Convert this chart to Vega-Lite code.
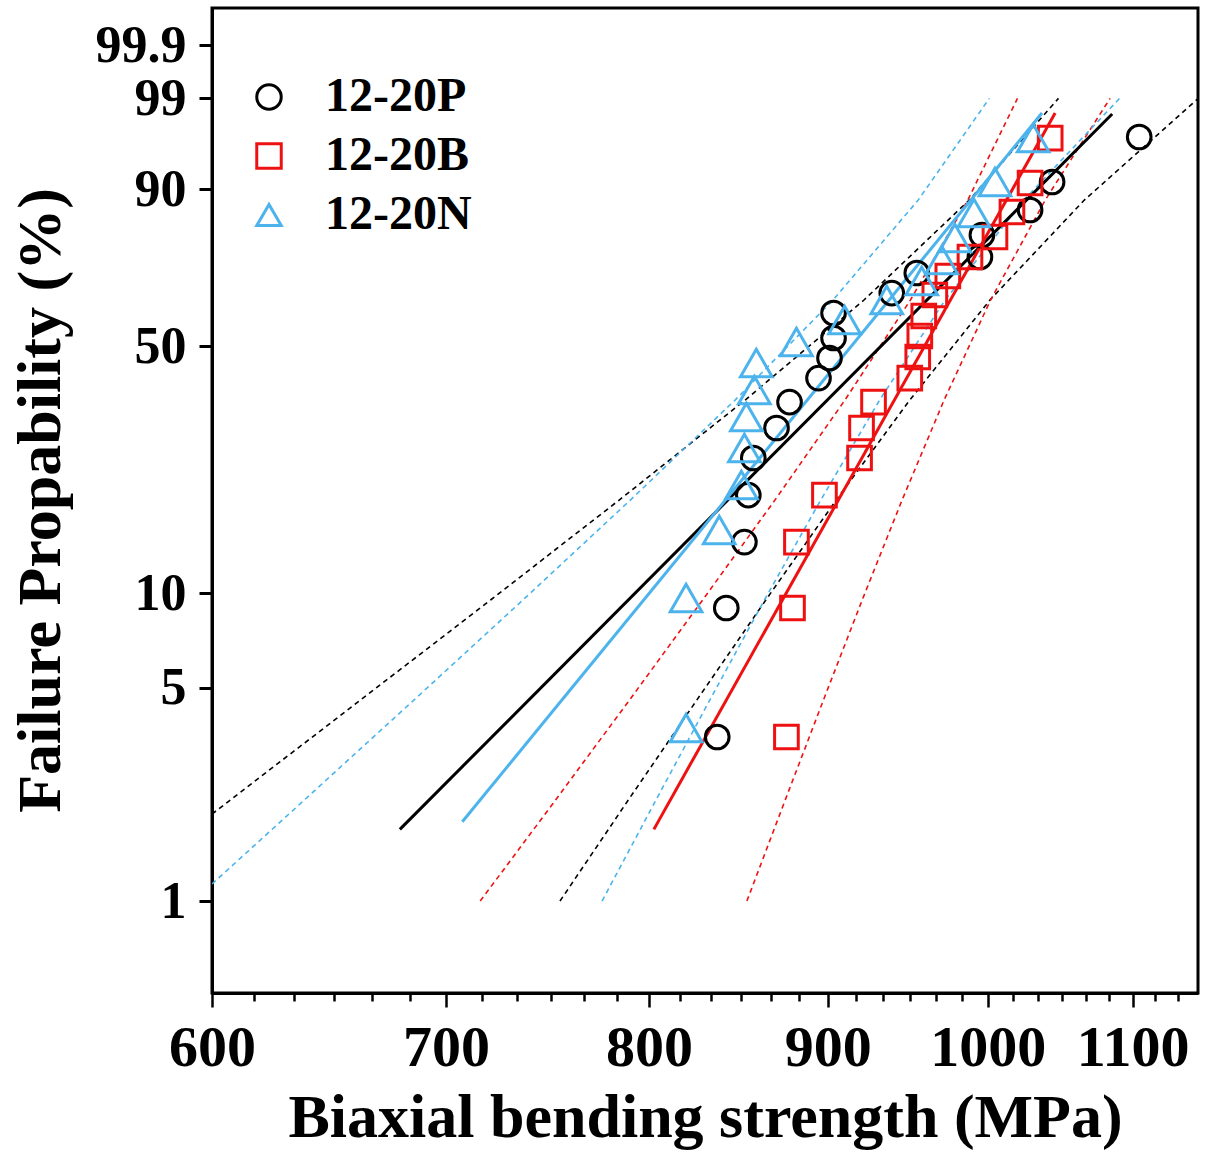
{
  "$schema": "https://vega.github.io/schema/vega-lite/v6.json",
  "width": 986,
  "height": 985,
  "autosize": {"type": "none"},
  "padding": {"left": 212, "top": 8, "right": 7, "bottom": 160},
  "background": "white",
  "config": {
    "view": {"stroke": "#000000", "strokeWidth": 3},
    "font": "Liberation Serif"
  },
  "datasets": {
    "points": [
      {"series": "12-20P", "strength": 836.8, "weibull": -3.348},
      {"series": "12-20P", "strength": 841.8, "weibull": -2.363},
      {"series": "12-20P", "strength": 851.9, "weibull": -1.860},
      {"series": "12-20P", "strength": 854.1, "weibull": -1.501},
      {"series": "12-20P", "strength": 856.9, "weibull": -1.218},
      {"series": "12-20P", "strength": 870.1, "weibull": -0.989},
      {"series": "12-20P", "strength": 877.6, "weibull": -0.791},
      {"series": "12-20P", "strength": 894.5, "weibull": -0.608},
      {"series": "12-20P", "strength": 901.0, "weibull": -0.455},
      {"series": "12-20P", "strength": 903.4, "weibull": -0.302},
      {"series": "12-20P", "strength": 903.4, "weibull": -0.111},
      {"series": "12-20P", "strength": 938.7, "weibull": 0.041},
      {"series": "12-20P", "strength": 954.3, "weibull": 0.194},
      {"series": "12-20P", "strength": 994.8, "weibull": 0.316},
      {"series": "12-20P", "strength": 996.1, "weibull": 0.484},
      {"series": "12-20P", "strength": 1028.2, "weibull": 0.675},
      {"series": "12-20P", "strength": 1043.2, "weibull": 0.889},
      {"series": "12-20P", "strength": 1104.8, "weibull": 1.232},
      {"series": "12-20B", "strength": 875.8, "weibull": -3.348},
      {"series": "12-20B", "strength": 879.3, "weibull": -2.363},
      {"series": "12-20B", "strength": 881.6, "weibull": -1.860},
      {"series": "12-20B", "strength": 898.0, "weibull": -1.501},
      {"series": "12-20B", "strength": 919.0, "weibull": -1.218},
      {"series": "12-20B", "strength": 920.2, "weibull": -0.989},
      {"series": "12-20B", "strength": 927.5, "weibull": -0.791},
      {"series": "12-20B", "strength": 949.9, "weibull": -0.608},
      {"series": "12-20B", "strength": 954.9, "weibull": -0.447},
      {"series": "12-20B", "strength": 956.2, "weibull": -0.287},
      {"series": "12-20B", "strength": 958.7, "weibull": -0.134},
      {"series": "12-20B", "strength": 965.7, "weibull": 0.026},
      {"series": "12-20B", "strength": 974.0, "weibull": 0.171},
      {"series": "12-20B", "strength": 988.3, "weibull": 0.316},
      {"series": "12-20B", "strength": 1004.7, "weibull": 0.469},
      {"series": "12-20B", "strength": 1016.0, "weibull": 0.660},
      {"series": "12-20B", "strength": 1028.2, "weibull": 0.881},
      {"series": "12-20B", "strength": 1041.9, "weibull": 1.224},
      {"series": "12-20N", "strength": 819.8, "weibull": -3.279},
      {"series": "12-20N", "strength": 819.8, "weibull": -2.287},
      {"series": "12-20N", "strength": 837.9, "weibull": -1.768},
      {"series": "12-20N", "strength": 850.2, "weibull": -1.424},
      {"series": "12-20N", "strength": 851.9, "weibull": -1.142},
      {"series": "12-20N", "strength": 853.0, "weibull": -0.905},
      {"series": "12-20N", "strength": 857.5, "weibull": -0.699},
      {"series": "12-20N", "strength": 858.6, "weibull": -0.493},
      {"series": "12-20N", "strength": 881.6, "weibull": -0.333},
      {"series": "12-20N", "strength": 910.0, "weibull": -0.165},
      {"series": "12-20N", "strength": 935.6, "weibull": -0.012},
      {"series": "12-20N", "strength": 957.4, "weibull": 0.133},
      {"series": "12-20N", "strength": 970.1, "weibull": 0.293},
      {"series": "12-20N", "strength": 978.5, "weibull": 0.461},
      {"series": "12-20N", "strength": 990.9, "weibull": 0.652},
      {"series": "12-20N", "strength": 1004.7, "weibull": 0.889},
      {"series": "12-20N", "strength": 1030.3, "weibull": 1.224}
    ],
    "fits": [
      {"series": "12-20P", "strength": 679.0, "weibull": -4.053},
      {"series": "12-20P", "strength": 1085.3, "weibull": 1.408},
      {"series": "12-20B", "strength": 802.6, "weibull": -4.053},
      {"series": "12-20B", "strength": 1045.3, "weibull": 1.415},
      {"series": "12-20N", "strength": 707.5, "weibull": -3.995},
      {"series": "12-20N", "strength": 1036.3, "weibull": 1.415}
    ],
    "bands": [
      {"series": "12-20P", "bound": "upper", "strength": 600.0, "weibull": -3.936},
      {"series": "12-20P", "bound": "upper", "strength": 661.6, "weibull": -3.066},
      {"series": "12-20P", "bound": "upper", "strength": 720.8, "weibull": -2.302},
      {"series": "12-20P", "bound": "upper", "strength": 784.5, "weibull": -1.539},
      {"series": "12-20P", "bound": "upper", "strength": 852.3, "weibull": -0.776},
      {"series": "12-20P", "bound": "upper", "strength": 921.7, "weibull": -0.012},
      {"series": "12-20P", "bound": "upper", "strength": 987.8, "weibull": 0.751},
      {"series": "12-20P", "bound": "upper", "strength": 1047.6, "weibull": 1.527},
      {"series": "12-20P", "bound": "lower", "strength": 754.5, "weibull": -4.600},
      {"series": "12-20P", "bound": "lower", "strength": 789.2, "weibull": -3.829},
      {"series": "12-20P", "bound": "lower", "strength": 825.6, "weibull": -3.066},
      {"series": "12-20P", "bound": "lower", "strength": 864.0, "weibull": -2.302},
      {"series": "12-20P", "bound": "lower", "strength": 905.0, "weibull": -1.539},
      {"series": "12-20P", "bound": "lower", "strength": 949.9, "weibull": -0.776},
      {"series": "12-20P", "bound": "lower", "strength": 1001.4, "weibull": -0.012},
      {"series": "12-20P", "bound": "lower", "strength": 1065.6, "weibull": 0.751},
      {"series": "12-20P", "bound": "lower", "strength": 1148.6, "weibull": 1.527},
      {"series": "12-20B", "bound": "upper", "strength": 715.9, "weibull": -4.600},
      {"series": "12-20B", "bound": "upper", "strength": 752.3, "weibull": -3.829},
      {"series": "12-20B", "bound": "upper", "strength": 789.8, "weibull": -3.066},
      {"series": "12-20B", "bound": "upper", "strength": 828.8, "weibull": -2.302},
      {"series": "12-20B", "bound": "upper", "strength": 869.2, "weibull": -1.539},
      {"series": "12-20B", "bound": "upper", "strength": 910.2, "weibull": -0.776},
      {"series": "12-20B", "bound": "upper", "strength": 950.3, "weibull": -0.012},
      {"series": "12-20B", "bound": "upper", "strength": 986.9, "weibull": 0.751},
      {"series": "12-20B", "bound": "upper", "strength": 1019.7, "weibull": 1.527},
      {"series": "12-20B", "bound": "lower", "strength": 853.3, "weibull": -4.600},
      {"series": "12-20B", "bound": "lower", "strength": 875.1, "weibull": -3.829},
      {"series": "12-20B", "bound": "lower", "strength": 897.4, "weibull": -3.066},
      {"series": "12-20B", "bound": "lower", "strength": 920.6, "weibull": -2.302},
      {"series": "12-20B", "bound": "lower", "strength": 945.1, "weibull": -1.539},
      {"series": "12-20B", "bound": "lower", "strength": 971.6, "weibull": -0.776},
      {"series": "12-20B", "bound": "lower", "strength": 1001.8, "weibull": -0.012},
      {"series": "12-20B", "bound": "lower", "strength": 1038.5, "weibull": 0.751},
      {"series": "12-20B", "bound": "lower", "strength": 1083.8, "weibull": 1.527},
      {"series": "12-20N", "bound": "upper", "strength": 600.0, "weibull": -4.470},
      {"series": "12-20N", "bound": "upper", "strength": 637.6, "weibull": -3.829},
      {"series": "12-20N", "bound": "upper", "strength": 685.3, "weibull": -3.066},
      {"series": "12-20N", "bound": "upper", "strength": 736.3, "weibull": -2.302},
      {"series": "12-20N", "bound": "upper", "strength": 790.3, "weibull": -1.539},
      {"series": "12-20N", "bound": "upper", "strength": 846.7, "weibull": -0.776},
      {"series": "12-20N", "bound": "upper", "strength": 903.1, "weibull": -0.012},
      {"series": "12-20N", "bound": "upper", "strength": 955.2, "weibull": 0.751},
      {"series": "12-20N", "bound": "upper", "strength": 1001.0, "weibull": 1.527},
      {"series": "12-20N", "bound": "lower", "strength": 775.7, "weibull": -4.600},
      {"series": "12-20N", "bound": "lower", "strength": 803.7, "weibull": -3.829},
      {"series": "12-20N", "bound": "lower", "strength": 832.7, "weibull": -3.066},
      {"series": "12-20N", "bound": "lower", "strength": 863.2, "weibull": -2.302},
      {"series": "12-20N", "bound": "lower", "strength": 895.8, "weibull": -1.539},
      {"series": "12-20N", "bound": "lower", "strength": 931.2, "weibull": -0.776},
      {"series": "12-20N", "bound": "lower", "strength": 972.3, "weibull": -0.012},
      {"series": "12-20N", "bound": "lower", "strength": 1024.1, "weibull": 0.751},
      {"series": "12-20N", "bound": "lower", "strength": 1090.6, "weibull": 1.527}
    ]
  },
  "encoding": {
    "x": {
      "field": "strength",
      "type": "quantitative",
      "scale": {"type": "log", "domain": [600, 1148.4], "nice": false},
      "axis": {
        "title": "Biaxial bending strength (MPa)",
        "values": [600, 616.67, 633.33, 650, 666.67, 683.33, 700, 716.67, 733.33, 750, 766.67, 783.33, 800, 816.67, 833.33, 850, 866.67, 883.33, 900, 916.67, 933.33, 950, 966.67, 983.33, 1000, 1016.67, 1033.33, 1050, 1066.67, 1083.33, 1100, 1116.67, 1133.33],
        "labelExpr": "abs(datum.value - round(datum.value / 100) * 100) < 0.5 ? format(datum.value, 'd') : ''",
        "tickSize": {"condition": {"test": "abs(datum.value - round(datum.value / 100) * 100) < 0.5", "value": 14}, "value": 8},
        "tickWidth": 2.5,
        "tickColor": "#000000",
        "domainColor": "#000000",
        "domainWidth": 3,
        "grid": false,
        "labelFont": "Liberation Serif",
        "labelFontSize": 58,
        "labelFontWeight": "bold",
        "labelColor": "#000000",
        "labelPadding": 12,
        "labelFlush": false,
        "labelOverlap": false,
        "titleFont": "Liberation Serif",
        "titleFontSize": 62,
        "titleFontWeight": "bold",
        "titleColor": "#000000",
        "titleBaseline": "alphabetic",
        "titleY": 143
      }
    },
    "y": {
      "field": "weibull",
      "type": "quantitative",
      "scale": {"domain": [-5.302, 2.217], "nice": false, "zero": false},
      "axis": {
        "title": "Failure Propability (%)",
        "values": [-4.60015, -2.9702, -2.25037, -0.36651, 0.834032, 1.52718, 1.932645],
        "labelExpr": "datum.value < -4 ? '1' : datum.value < -2.6 ? '5' : datum.value < -1 ? '10' : datum.value < 0 ? '50' : datum.value < 1 ? '90' : datum.value < 1.7 ? '99' : '99.9'",
        "tickSize": 13,
        "tickWidth": 3,
        "tickColor": "#000000",
        "domainColor": "#000000",
        "domainWidth": 3,
        "grid": false,
        "labelFont": "Liberation Serif",
        "labelFontSize": 52,
        "labelFontWeight": "bold",
        "labelColor": "#000000",
        "labelPadding": 13,
        "labelOverlap": false,
        "labelFlush": false,
        "titleFont": "Liberation Serif",
        "titleFontSize": 62,
        "titleFontWeight": "bold",
        "titleColor": "#000000",
        "titleAngle": -90,
        "titleAlign": "center",
        "titleBaseline": "middle",
        "titleX": -172,
        "titleY": 492
      }
    }
  },
  "layer": [
    {
      "data": {"name": "bands"},
      "mark": {"type": "line", "strokeWidth": 1.6, "strokeDash": [5, 4], "clip": true},
      "encoding": {
        "stroke": {"condition": [{"test": "datum.series === '12-20B'", "value": "#ee1111"}, {"test": "datum.series === '12-20N'", "value": "#4cb3ec"}], "value": "#000000"},
        "detail": [{"field": "series", "type": "nominal"}, {"field": "bound", "type": "nominal"}]
      }
    },
    {
      "data": {"name": "fits"},
      "mark": {"type": "line", "strokeWidth": 3, "clip": true},
      "encoding": {
        "stroke": {"condition": [{"test": "datum.series === '12-20B'", "value": "#ee1111"}, {"test": "datum.series === '12-20N'", "value": "#4cb3ec"}], "value": "#000000"},
        "detail": {"field": "series", "type": "nominal"}
      }
    },
    {
      "data": {"name": "points"},
      "mark": {"type": "point", "filled": false, "strokeWidth": 3, "opacity": 1},
      "encoding": {
        "color": {
          "field": "series", "type": "nominal",
          "scale": {"domain": ["12-20P", "12-20B", "12-20N"], "range": ["#000000", "#ee1111", "#4cb3ec"]},
          "legend": {
            "title": null,
            "orient": "none",
            "legendX": 33,
            "legendY": 65,
            "padding": 0,
            "direction": "vertical",
            "labelFont": "Liberation Serif",
            "labelFontSize": 48,
            "labelFontWeight": "bold",
            "labelColor": "#000000",
            "labelOffset": 32,
            "rowPadding": 11,
            "symbolSize": 600,
            "symbolStrokeWidth": 3
          }
        },
        "shape": {"field": "series", "type": "nominal", "scale": {"domain": ["12-20P", "12-20B", "12-20N"], "range": ["circle", "square", "triangle-up"]}},
        "size": {"condition": {"test": "datum.series === '12-20N'", "value": 1000}, "value": 560}
      }
    }
  ]
}
